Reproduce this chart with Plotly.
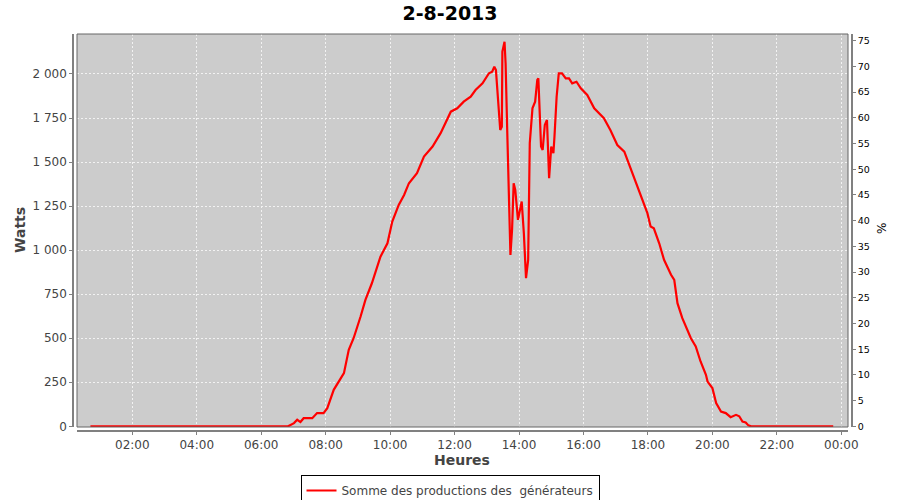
import plotly.graph_objects as go

DAY = "2013-08-02"
times = [
    "00:42", "01:00", "01:15", "01:30", "01:45", "02:00", "02:15", "02:30", "02:45", "03:00",
    "03:15", "03:30", "03:45", "04:00", "04:15", "04:30", "04:45", "05:00", "05:05", "05:10",
    "05:15", "05:30", "05:35", "05:40", "05:45", "06:00", "06:05", "06:10", "06:15", "06:30",
    "06:36", "06:50", "07:01", "07:07", "07:13", "07:19", "07:35", "07:44", "07:56", "08:03",
    "08:15", "08:25", "08:34", "08:43", "08:52", "09:05", "09:14", "09:26", "09:42", "09:55",
    "10:04", "10:16", "10:26", "10:35", "10:50", "11:03", "11:19", "11:34", "11:46", "11:53",
    "12:05", "12:17", "12:30", "12:39", "12:52", "13:04", "13:10", "13:14", "13:17", "13:25",
    "13:28", "13:29", "13:33", "13:35", "13:38", "13:41", "13:44", "13:47", "13:50", "13:53",
    "13:58", "14:05", "14:09", "14:13", "14:17", "14:20", "14:25", "14:30", "14:34", "14:36",
    "14:39", "14:41", "14:44", "14:48", "14:52", "14:56", "15:00", "15:04", "15:06", "15:10",
    "15:14", "15:20", "15:27", "15:33", "15:39", "15:47", "15:55", "16:07", "16:20", "16:38",
    "16:50", "17:03", "17:16", "17:25", "17:37", "17:50", "17:59", "18:05", "18:11", "18:21",
    "18:30", "18:43", "18:49", "18:55", "19:04", "19:20", "19:29", "19:38", "19:48", "19:51",
    "20:00", "20:07", "20:16", "20:25", "20:34", "20:44", "20:50", "20:56", "21:02", "21:07",
    "21:12", "21:30", "22:00", "22:30", "23:00", "23:15", "23:20", "23:45",
]
watts = [
    0, 0, 0, 0, 0, 0, 0, 0, 0, 0,
    0, 0, 0, 0, 0, 0, 0, 0, 4, 4,
    0, 0, 4, 4, 0, 0, 4, 4, 0, 0,
    3, 0, 18, 37, 24, 46, 46, 75, 75, 103,
    207, 254, 302, 434, 500, 623, 718, 812, 963, 1039,
    1162, 1257, 1313, 1380, 1437, 1531, 1588, 1664, 1739, 1786,
    1805, 1843, 1871, 1909, 1947, 2004, 2013, 2041, 2022, 1682,
    1701, 2127, 2183, 2060, 1682, 1323, 973, 1115, 1380, 1342,
    1172, 1276, 1096, 841, 945, 1607, 1805, 1843, 1966, 1975,
    1777, 1588, 1569, 1711, 1739, 1408, 1588, 1550, 1645, 1871,
    2004, 2004, 1975, 1975, 1947, 1956, 1919, 1881, 1805, 1749,
    1682, 1597, 1559, 1484, 1389, 1285, 1210, 1134, 1124, 1039,
    945, 860, 831, 699, 614, 500, 453, 368, 292, 254,
    217, 132, 84, 75, 52, 65, 57, 27, 22, 5,
    0, 0, 0, 0, 0, 3, 0, 0,
]
PEAK_W = 2918.6  # watts corresponding to 100 %
x_vals = [f"{DAY} {t}" for t in times]
pct = [w / PEAK_W * 100 for w in watts]

y_range = [-4, 2227]
pct_range = [v * 100 / PEAK_W for v in y_range]

W, H = 900, 500
ml, mr, mt, mb = 65, 40, 34, 55
pw, ph = W - ml - mr, H - mt - mb
def px(x):
    return (x - ml) / pw
def py(y):
    return (H - mb - y) / ph

PL, PR, PT, PB = 77, 848, 34, 427

fig = go.Figure()
fig.add_trace(go.Scatter(
    x=x_vals, y=watts, mode="lines", name="Somme des productions des  générateurs",
    line=dict(color="#ff0000", width=2.2), xaxis="x", yaxis="y",
))
fig.add_trace(go.Scatter(
    x=x_vals, y=pct, mode="lines", showlegend=False, hoverinfo="skip",
    line=dict(color="rgba(0,0,0,0)", width=0), xaxis="x", yaxis="y2",
))

grid = dict(showgrid=True, gridcolor="#f2f2f2", gridwidth=1, griddash="2px,2px")
fig.update_layout(
    width=W, height=H,
    margin=dict(l=ml, r=mr, t=mt, b=mb, autoexpand=False),
    paper_bgcolor="white", plot_bgcolor="#cccccc",
    separators=", ",
    font=dict(family="DejaVu Sans", size=12, color="#444444"),
    title=dict(text="<b>2-8-2013</b>", x=0.5, xanchor="center", y=1 - 13 / H, yanchor="middle",
               font=dict(family="DejaVu Sans", size=19, color="#000000")),
    xaxis=dict(
        type="date", domain=[px(PL), px(PR)], anchor="free", position=py(431),
        range=[f"{DAY} 00:17", "2013-08-03 00:12:30"],
        tickformat="%H:%M", dtick=7200000, tick0=f"{DAY} 00:00",
        showline=True, linecolor="#808080", linewidth=1.5,
        ticks="outside", ticklen=3, tickcolor="#808080",
        tickfont=dict(size=12, color="#444444"), zeroline=False, **grid,
    ),
    yaxis=dict(
        domain=[py(PB), py(PT)], anchor="free", position=px(73),
        range=y_range, dtick=250, tick0=0, tickformat=",d",
        showline=True, linecolor="#808080", linewidth=1.5,
        ticks="outside", ticklen=3, tickcolor="#808080",
        tickfont=dict(size=12, color="#444444"), zeroline=False, **grid,
    ),
    yaxis2=dict(
        overlaying="y", side="right", anchor="free", position=px(852),
        range=pct_range, dtick=5, tick0=0,
        showline=True, linecolor="#808080", linewidth=1.5,
        ticks="outside", ticklen=3, tickcolor="#808080",
        tickfont=dict(size=9.5, color="#000000"), showgrid=False, zeroline=False,
    ),
    legend=dict(
        orientation="h", x=px(450), xanchor="center", y=py(475), yanchor="top",
        bordercolor="#000000", borderwidth=1, bgcolor="white",
        font=dict(size=12, color="#444444"), itemwidth=30,
    ),
    showlegend=True,
)

fig.add_shape(type="rect", xref="paper", yref="paper",
              x0=px(PL), x1=px(PR), y0=py(PB), y1=py(PT),
              line=dict(color="#666666", width=1), layer="above")

fig.add_annotation(text="<b>Watts</b>", xref="paper", yref="paper", x=px(20), y=py(230),
                   xanchor="center", yanchor="middle",
                   textangle=-90, showarrow=False, font=dict(size=14, color="#444444"))
fig.add_annotation(text="<b>Heures</b>", xref="paper", yref="paper", x=px(462), y=py(460),
                   xanchor="center", yanchor="middle",
                   showarrow=False, font=dict(size=14, color="#444444"))
fig.add_annotation(text="%", xref="paper", yref="paper", x=px(882), y=py(229),
                   xanchor="center", yanchor="middle",
                   textangle=-90, showarrow=False, font=dict(size=12, color="#000000"))

fig.write_html("out.html", config={"displayModeBar": False},
               post_script="document.body.style.margin='0';")
